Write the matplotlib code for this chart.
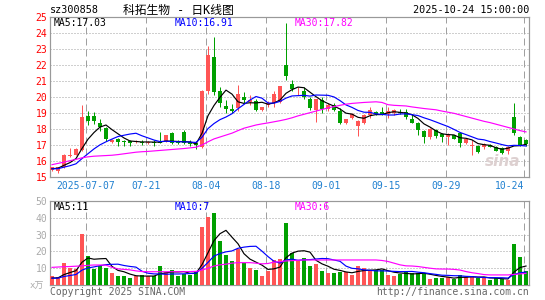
import numpy as np
import pandas as pd
import matplotlib
matplotlib.use("Agg")
import matplotlib.pyplot as plt

plt.rcParams["font.family"] = ["DejaVu Sans Mono", "Noto Sans CJK SC"]
plt.rcParams["font.size"] = 7

W, H = 545, 300

# daily candles 2025-06-27 .. 2025-10-24 (80 trading days)
opens = [15.45, 15.35, 15.6, 16.3, 16.4, 16.7,
         18.8, 18.8, 18.4, 18.05, 17.2, 17.4, 17.25, 17.25, 17.2, 17.2,
         17.15, 17.2, 17.2, 17.25, 17.75, 17.25, 17.8, 17.2, 17.15, 16.9,
         20.4, 22.5, 20.4, 19.45, 19.25, 19.3, 20.0, 19.7, 19.75, 19.2,
         19.5, 19.6, 19.7, 22.0, 20.8, 20.35, 20.4, 19.9, 19.2, 19.8,
         19.25, 19.5, 19.1, 18.4, 18.7, 18.2, 18.4, 18.9, 19.05, 19.05,
         18.95, 19.0, 19.05, 19.05, 18.6, 18.4, 17.9, 17.5, 17.95, 17.7,
         17.5, 17.6, 17.75, 17.1, 16.95, 16.95, 16.9, 17.0, 16.9, 16.8,
         16.6, 18.75, 17.5, 17.3]
highs = [15.65, 15.65, 16.45, 16.8, 16.8, 19.5,
         19.1, 19.05, 18.6, 18.1, 17.35, 17.45, 17.3, 17.3, 17.3, 17.3,
         17.25, 17.3, 17.8, 17.65, 17.8, 17.3, 17.95, 17.3, 17.25, 20.45,
         23.2, 23.75, 20.65, 19.8, 19.55, 20.75, 20.3, 20.1, 19.9, 19.4,
         19.75, 20.4, 20.7, 24.6, 21.05, 20.6, 20.6, 20.0, 19.9, 20.0,
         19.6, 19.65, 19.3, 18.65, 19.0, 18.55, 18.95, 19.35, 19.15, 19.35,
         19.35, 19.25, 19.25, 19.25, 18.95, 18.45, 17.95, 18.05, 18.0, 17.75,
         17.75, 17.65, 17.8, 17.45, 17.3, 17.0, 17.1, 17.05, 16.95, 16.85,
         16.95, 19.6, 17.55, 17.35]
lows = [15.35, 15.25, 15.55, 16.25, 16.35, 16.65,
        18.25, 18.3, 17.9, 17.25, 17.1, 16.95, 16.95, 16.95, 17.1, 17.0,
        17.05, 16.95, 17.1, 17.2, 17.05, 17.05, 17.05, 16.95, 16.75, 16.8,
        20.2, 20.1, 19.35, 19.0, 19.0, 19.15, 19.6, 19.5, 19.1, 19.1,
        19.4, 19.4, 19.6, 21.05, 20.35, 20.1, 19.9, 19.2, 18.45, 19.0,
        19.1, 19.1, 18.3, 18.3, 18.6, 17.55, 18.3, 18.7, 18.9, 18.85,
        18.7, 18.9, 18.95, 18.6, 18.35, 17.6, 17.1, 17.4, 17.45, 17.2,
        17.0, 17.35, 16.9, 17.05, 16.4, 16.5, 16.75, 16.85, 16.6, 16.45,
        16.45, 17.6, 16.95, 16.95]
closes = [15.6, 15.6, 16.4, 16.4, 16.75, 18.75,
          18.5, 18.5, 18.1, 17.4, 17.3, 17.2, 17.2, 17.15, 17.25, 17.15,
          17.2, 17.15, 17.15, 17.6, 17.1, 17.1, 17.1, 17.05, 17.0, 20.4,
          22.6, 20.3, 19.6, 19.25, 19.15, 20.2, 19.8, 19.8, 19.2, 19.35,
          19.6, 20.2, 20.7, 21.3, 20.5, 20.4, 20.0, 19.3, 19.9, 19.25,
          19.5, 19.2, 18.4, 18.6, 18.95, 18.5, 18.9, 19.2, 18.95, 18.95,
          19.1, 19.2, 19.0, 18.75, 18.4, 17.95, 17.5, 18.0, 17.55, 17.5,
          17.7, 17.4, 17.1, 17.4, 17.0, 16.55, 17.05, 16.9, 16.65, 16.5,
          16.9, 17.75, 17.0, 17.05]
volumes = [5.4, 4.5, 13.3, 10.0, 9.5, 30.4,
           17.3, 9.5, 11.3, 10.3, 7.0, 5.4, 5.4, 4.4, 5.4, 6.0,
           5.4, 5.4, 11.3, 7.9, 8.9, 5.4, 6.5, 6.0, 7.9, 34.7,
           40.7, 43.0, 26.4, 17.9, 14.3, 21.2, 13.3, 10.3, 8.9, 5.4,
           8.5, 15.0, 15.5, 36.7, 19.2, 14.3, 16.3, 11.3, 12.5, 8.5,
           7.3, 7.3, 7.9, 7.9, 6.0, 11.3, 9.9, 8.9, 8.9, 8.9,
           6.0, 5.4, 6.5, 7.9, 7.0, 7.0, 6.5, 3.6, 4.4, 4.0,
           5.0, 3.4, 6.0, 4.6, 5.4, 4.0, 4.0, 3.0, 4.0, 3.8,
           3.2, 24.5, 16.5, 8.5]

# closes / volumes of the days just before the window (for MA5 / MA10)
pre_close = [15.5, 15.45, 15.5, 15.55, 15.5, 15.45, 15.5, 15.55, 15.5]
pre_vol = [4.0, 3.5, 4.0, 3.8, 4.2, 4.0, 3.6, 4.0, 3.8]

# MA30 lines
ma30_price = [15.77, 15.85, 15.93, 16.02, 16.1, 16.2,
              16.26, 16.3, 16.32, 16.34, 16.36, 16.4, 16.45, 16.5, 16.55, 16.58,
              16.6, 16.63, 16.66, 16.69, 16.72, 16.75, 16.78, 16.82, 16.86, 17.0,
              17.2, 17.38, 17.5, 17.62, 17.74, 17.9, 18.05, 18.15, 18.25, 18.32,
              18.38, 18.45, 18.52, 18.6, 18.7, 18.82, 18.92, 19.02, 19.12, 19.22,
              19.32, 19.4, 19.48, 19.55, 19.6, 19.63, 19.66, 19.68, 19.7, 19.66,
              19.52, 19.48, 19.46, 19.44, 19.38, 19.33, 19.28, 19.24, 19.2, 19.12,
              19.05, 18.98, 18.88, 18.78, 18.68, 18.58, 18.48, 18.4, 18.3, 18.2,
              18.1, 18.0, 17.9, 17.82]
ma30_vol = [10.5, 10.7, 10.9, 11.0, 11.2, 11.4,
            11.7, 11.9, 11.9, 11.8, 10.5, 9.6, 9.3, 9.0, 8.4, 8.0,
            7.9, 7.9, 7.9, 7.9, 7.9, 7.9, 7.9, 8.0, 8.1, 8.9,
            10.0, 11.3, 12.0, 12.4, 13.0, 13.3, 13.3, 13.3, 13.0, 12.6,
            12.8, 13.6, 13.9, 14.3, 14.5, 14.7, 14.9, 14.9, 14.9, 14.9,
            14.9, 14.9, 14.9, 14.9, 14.9, 14.9, 14.9, 14.9, 14.9, 14.6,
            14.0, 13.0, 12.0, 11.4, 11.3, 11.0, 10.5, 10.0, 9.6, 9.5,
            9.5, 9.3, 8.9, 8.0, 7.3, 6.8, 6.2, 6.0, 6.0, 6.0,
            6.0, 6.3, 6.6, 6.9]

tick_pos = [6, 16, 26, 36, 46, 56, 66, 79]
tick_lab = ["2025-07-07", "07-21", "08-04", "08-18", "09-01", "09-15", "09-29", "10-24"]

RED = "#ff5555"
GREEN = "#00a000"
GRID = "#a0a0a0"
FRAME = "#999999"
BLUE_TXT = "#2080d0"
PX = 0.72  # one pixel in points

x = np.arange(len(closes))
o = np.array(opens)
c = np.array(closes)
colors = np.where(c >= o, RED, GREEN)

ma5 = pd.Series(pre_close + closes).rolling(5).mean().to_numpy()[len(pre_close):]
ma10 = pd.Series(pre_close + closes).rolling(10).mean().to_numpy()[len(pre_close):]
vma5 = pd.Series(pre_vol + volumes).rolling(5).mean().to_numpy()[len(pre_vol):]
vma10 = pd.Series(pre_vol + volumes).rolling(10).mean().to_numpy()[len(pre_vol):]

fig = plt.figure(figsize=(W / 100, H / 100), dpi=100)
ax = fig.add_axes([50 / W, 1 - 177 / H, 479 / W, 160 / H])
axv = fig.add_axes([50 / W, 1 - 285 / H, 479 / W, 84 / H])

grid_x = [p - 0.33 for p in tick_pos]
for a in (ax, axv):
    a.set_xlim(-0.33, 79.5)
    for s in a.spines.values():
        s.set_color(FRAME)
        s.set_linewidth(1.2 * PX)
    a.tick_params(length=0)
    a.set_xticks(grid_x)
    a.grid(axis="x", color=GRID, ls=(0, (7, 4)), lw=PX)
    a.grid(axis="y", color=GRID, ls=(0, (1, 2)), lw=PX)
    a.set_axisbelow(True)

# price panel
ax.set_ylim(15, 25)
ax.set_yticks(range(15, 26))
ax.tick_params(axis="y", colors="red", pad=2)
ax.set_xticklabels(tick_lab, color=BLUE_TXT)
ax.tick_params(axis="x", pad=3)
ax.get_xticklabels()[-1].set_ha("right")

ax.vlines(x, lows, highs, colors=colors, lw=PX, zorder=2)
body = np.maximum(np.abs(c - o), 0.04)
ax.bar(x, body, bottom=np.minimum(o, c), width=0.75, color=colors, lw=0, zorder=3)
ax.plot(x, ma5, color="black", lw=0.85, zorder=4)
ax.plot(x, ma10, color="blue", lw=0.85, zorder=4)
ax.plot(x, ma30_price, color="magenta", lw=0.85, zorder=4)

ax.text(4 / 479, 1 - 6.5 / 160, "MA5:17.03", transform=ax.transAxes,
        color="black", va="center", ha="left")
ax.text(125 / 479, 1 - 6.5 / 160, "MA10:16.91", transform=ax.transAxes,
        color="blue", va="center", ha="left")
ax.text(245 / 479, 1 - 6.5 / 160, "MA30:17.82", transform=ax.transAxes,
        color="magenta", va="center", ha="left")
ax.text(0.945, 0.095, "sina", transform=ax.transAxes, color="#ddd0d0",
        fontsize=11, fontweight="bold", style="italic", ha="center", va="center",
        family="DejaVu Sans", zorder=1)

# volume panel
axv.set_ylim(0, 50)
axv.set_yticks([10, 20, 30, 40, 50])
axv.tick_params(axis="y", colors="#aaaaaa", pad=2)
axv.set_xticklabels([])
axv.bar(x, volumes, width=0.8, color=colors, lw=0, zorder=3)
axv.plot(x, vma5, color="black", lw=0.85, zorder=4)
axv.plot(x, vma10, color="blue", lw=0.85, zorder=4)
axv.plot(x, ma30_vol, color="magenta", lw=0.85, zorder=4)
axv.text(4 / 479, 1 - 6 / 84, "MA5:11", transform=axv.transAxes,
         color="black", va="center", ha="left")
axv.text(125 / 479, 1 - 6 / 84, "MA10:7", transform=axv.transAxes,
         color="blue", va="center", ha="left")
axv.text(245 / 479, 1 - 6 / 84, "MA30:6", transform=axv.transAxes,
         color="magenta", va="center", ha="left")

# header / footer texts
fig.text(50 / W, 1 - 10 / H, "sz300858", va="center", ha="left", fontsize=7.3)
fig.text(178 / W, 1 - 10 / H, "科拓生物 - 日K线图", va="center", ha="center", fontsize=8.5)
fig.text(529 / W, 1 - 10 / H, "2025-10-24 15:00:00", va="center", ha="right", fontsize=7.3)
fig.text(44 / W, 1 - 286 / H, "x万", va="center", ha="right", color="#aaaaaa", fontsize=6.5)
fig.text(50 / W, 1 - 292 / H, "Copyright 2025 SINA.COM", va="center", ha="left", color="#666666")
fig.text(529 / W, 1 - 292 / H, "http://finance.sina.com.cn", va="center", ha="right", color="#666666")

fig.savefig("out.png", dpi=100)
